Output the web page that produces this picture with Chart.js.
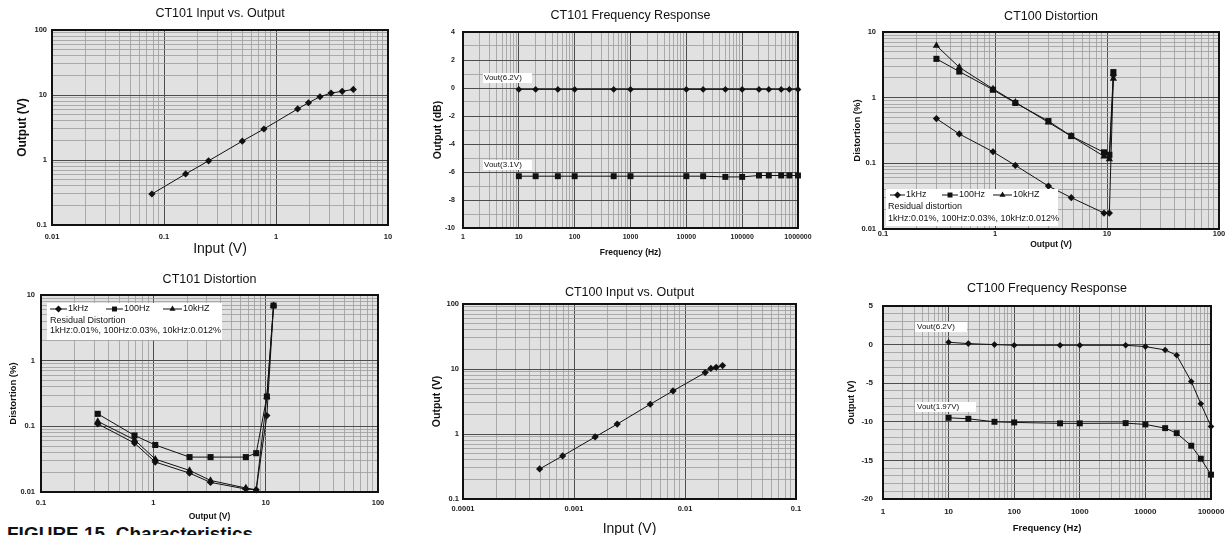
<!DOCTYPE html>
<html>
<head>
<meta charset="utf-8">
<script src="https://cdn.jsdelivr.net/npm/chart.js@4.4.1/dist/chart.umd.min.js"></script>
<style>
  html, body { margin: 0; padding: 0; background: #fff; }
  body { width: 1226px; height: 535px; overflow: hidden; position: relative; font-family: "Liberation Sans", Arial, sans-serif; }
  canvas { position: absolute; }
  #caption { position: absolute; left: 7px; top: 524px; font-size: 19px; line-height: 19px; font-weight: bold; white-space: nowrap; color: #111; }
</style>
</head>
<body>
<div id="caption">FIGURE 15. Characteristics</div>
<script>
// ---- CT101 Input vs. Output ----
const ct101IoInput  = [0.078, 0.156, 0.25, 0.5, 0.78, 1.56, 1.95, 2.47, 3.1, 3.9, 4.9];
const ct101IoOutput = [0.30, 0.61, 0.97, 1.95, 3.0, 6.1, 7.6, 9.4, 10.7, 11.4, 12.2];
const ct101IoXTicks = [0.01, 0.1, 1, 10];
const ct101IoYTicks = [0.1, 1, 10, 100];

// ---- CT101 Frequency Response ----
const ct101FrFreq = [10, 20, 50, 100, 500, 1000, 10000, 20000, 50000, 100000, 200000, 300000, 500000, 700000, 1000000];
const ct101FrHigh = [-0.1, -0.1, -0.1, -0.1, -0.1, -0.1, -0.1, -0.1, -0.1, -0.1, -0.1, -0.1, -0.1, -0.1, -0.1];
const ct101FrLow  = [-6.3, -6.3, -6.3, -6.3, -6.3, -6.3, -6.3, -6.3, -6.35, -6.35, -6.25, -6.25, -6.25, -6.25, -6.25];
const ct101FrSeries = ['Vout(6.2V)', 'Vout(3.1V)'];
const ct101FrXTicks = [1, 10, 100, 1000, 10000, 100000, 1000000];
const ct101FrYTicks = [-10, -8, -6, -4, -2, 0, 2, 4];

// ---- CT100 Distortion ----
const ct100DistOut   = [0.3, 0.48, 0.96, 1.52, 3.0, 4.8, 9.4, 10.5, 11.4];
const ct100Dist1k    = [0.48, 0.28, 0.15, 0.093, 0.045, 0.030, 0.0175, 0.0175, 2.2];
const ct100Dist100   = [3.9, 2.5, 1.32, 0.83, 0.44, 0.26, 0.147, 0.135, 2.45];
const ct100Dist10k   = [6.2, 2.9, 1.36, 0.85, 0.42, 0.258, 0.128, 0.116, 1.95];
const ct100Residual  = ['Residual distortion', '1kHz:0.01%, 100Hz:0.03%, 10kHz:0.012%'];

// ---- CT101 Distortion ----
const ct101DistOut   = [0.32, 0.68, 1.04, 2.1, 3.23, 6.66, 8.24, 10.25, 11.75];
const ct101Dist1k    = [0.109, 0.0555, 0.0286, 0.0194, 0.014, 0.0111, 0.0108, 0.146, 6.9];
const ct101Dist100   = [0.155, 0.0726, 0.052, 0.034, 0.034, 0.034, 0.039, 0.284, 6.9];
const ct101Dist10k   = [0.119, 0.0624, 0.0317, 0.0213, 0.015, 0.0115, 0.0108, 0.28, 6.9];
const ct101Residual  = ['Residual Distortion', '1kHz:0.01%, 100Hz:0.03%, 10kHz:0.012%'];

const distSeries = ['1kHz', '100Hz', '10kHZ'];
const distXTicks = [0.1, 1, 10, 100];
const distYTicks = [0.01, 0.1, 1, 10];

// ---- CT100 Input vs. Output ----
const ct100IoInput  = [0.00049, 0.00079, 0.00155, 0.00245, 0.00486, 0.0078, 0.0152, 0.0171, 0.0191, 0.0218];
const ct100IoOutput = [0.29, 0.46, 0.9, 1.42, 2.87, 4.6, 8.8, 10.2, 10.6, 11.3];
const ct100IoXTicks = [0.0001, 0.001, 0.01, 0.1];
const ct100IoYTicks = [0.1, 1, 10, 100];

// ---- CT100 Frequency Response ----
const ct100FrFreq = [10, 20, 50, 100, 500, 1000, 5000, 10000, 20000, 30000, 50000, 70000, 100000];
const ct100FrHigh = [0.3, 0.13, 0.0, -0.09, -0.09, -0.09, -0.09, -0.26, -0.69, -1.38, -4.78, -7.67, -10.6];
const ct100FrLow  = [-9.48, -9.61, -10.0, -10.08, -10.2, -10.2, -10.17, -10.34, -10.82, -11.47, -13.1, -14.78, -16.85];
const ct100FrSeries = ['Vout(6.2V)', 'Vout(1.97V)'];
const ct100FrXTicks = [1, 10, 100, 1000, 10000, 100000];
const ct100FrYTicks = [-20, -15, -10, -5, 0, 5];

const FONT = '"Liberation Sans", Arial, sans-serif';

// grid values: 1..9 in every decade for log axes, fixed step for linear ones
function logGrid(labels) {
    let vals = [];
    for (let i = 0; i < labels.length - 1; i++) {
        for (let m = 1; m < 10; m++) vals.push(+(labels[i] * m).toPrecision(4));
    }
    vals.push(labels[labels.length - 1]);
    return vals;
}
function linGrid(labels, step) {
    let vals = [];
    for (let v = labels[0]; v <= labels[labels.length - 1] + 1e-9; v += step) vals.push(+v.toFixed(3));
    return vals;
}
function points(xs, ys) {
    return xs.map((x, i) => ({ x: x, y: ys[i] }));
}

function drawMark(ctx, style, x, y, r) {
    ctx.beginPath();
    if (style === 'rectRot') {
        ctx.moveTo(x, y - r); ctx.lineTo(x + r, y); ctx.lineTo(x, y + r); ctx.lineTo(x - r, y);
    } else if (style === 'rect') {
        let s = r * Math.SQRT1_2;
        ctx.rect(x - s, y - s, 2 * s, 2 * s);
    } else {
        ctx.moveTo(x, y - r); ctx.lineTo(x + r * 0.87, y + r * 0.5); ctx.lineTo(x - r * 0.87, y + r * 0.5);
    }
    ctx.closePath();
    ctx.fill();
}

// grey plot paper + heavy frame
const plotFrame = {
    id: 'plotFrame',
    beforeDraw(chart) {
        const { ctx, chartArea: a } = chart;
        ctx.save();
        ctx.fillStyle = '#e1e1e1';
        ctx.fillRect(a.left, a.top, a.width, a.height);
        ctx.restore();
    },
    beforeDatasetsDraw(chart) {
        const { ctx, chartArea: a } = chart;
        ctx.save();
        ctx.strokeStyle = '#111';
        ctx.lineWidth = 2;
        ctx.strokeRect(a.left, a.top, a.width, a.height);
        ctx.restore();
    }
};

// white text boxes inside the plot (series labels, legend)
const notes = {
    id: 'notes',
    afterDatasetsDraw(chart, args, opts) {
        const { ctx, chartArea: a } = chart;
        (opts.boxes || []).forEach(b => {
            let x = a.left + b.x, y = a.top + b.y;
            ctx.save();
            ctx.fillStyle = '#fff';
            ctx.fillRect(x, y, b.w, b.h);
            ctx.fillStyle = '#111';
            ctx.strokeStyle = '#111';
            ctx.font = b.size + 'px ' + FONT;
            ctx.textBaseline = 'middle';
            (b.items || []).forEach(it => {
                ctx.lineWidth = 1;
                ctx.beginPath();
                ctx.moveTo(x + it.x, y + b.itemY);
                ctx.lineTo(x + it.x + it.len, y + b.itemY);
                ctx.stroke();
                drawMark(ctx, it.style, x + it.x + it.len / 2, y + b.itemY, 3.5);
                ctx.fillText(it.label, x + it.x + it.len + 1, y + b.itemY);
            });
            (b.lines || []).forEach(l => ctx.fillText(l.text, x + l.x, y + l.y));
            ctx.restore();
        });
    }
};

function series(label, xs, ys, style, size) {
    return {
        label: label,
        data: points(xs, ys),
        showLine: true,
        borderColor: '#111',
        backgroundColor: '#111',
        borderWidth: 1,
        pointStyle: style,
        pointRadius: size || (style === 'rect' ? 4.3 : (style === 'triangle' ? 4.2 : 3.6)),
        pointBorderWidth: 0,
        clip: false,
        tension: 0
    };
}

function makeChart(c) {
    const [cl, ct, cw, ch] = c.box;
    const [pl, pt, pr, pb] = c.plot;
    let cv = document.createElement('canvas');
    cv.width = cw;
    cv.height = ch;
    cv.style.left = cl + 'px';
    cv.style.top = ct + 'px';
    document.body.appendChild(cv);

    let tlh = c.title.size * 1.2;
    let tTop = c.title.y - ct - tlh / 2;
    let ylh = c.yTitle.size * 1.2;
    let xlh = c.xTitle.size * 1.2;
    let tickFont = { family: FONT, size: c.tick.size, weight: 'bold' };

    function axisGrid(labels) {
        return {
            drawTicks: false,
            color: ctx => (ctx.tick && labels.includes(ctx.tick.value)) ? '#4d4d4d' : '#9c9c9c',
            lineWidth: ctx => (ctx.tick && labels.includes(ctx.tick.value)) ? 1 : 0.8
        };
    }

    new Chart(cv, {
        type: 'scatter',
        data: { datasets: c.datasets },
        options: {
            responsive: false,
            animation: false,
            layout: { padding: { left: 0, top: 0, bottom: 0, right: cl + cw - pr } },
            plugins: {
                legend: { display: false },
                tooltip: { enabled: false },
                title: {
                    display: true,
                    text: c.title.text,
                    fullSize: false,
                    color: '#111',
                    font: { family: FONT, size: c.title.size, weight: 'normal' },
                    padding: { top: tTop, bottom: pt - ct - tTop - tlh }
                },
                notes: { boxes: c.notes || [] }
            },
            scales: {
                x: {
                    type: c.xType,
                    min: c.xLabels[0],
                    max: c.xLabels[c.xLabels.length - 1],
                    afterBuildTicks: s => { s.ticks = c.xGrid.map(v => ({ value: v })); },
                    afterFit: s => { s.height = ct + ch - pb; },
                    grid: axisGrid(c.xLabels),
                    border: { display: false },
                    ticks: {
                        autoSkip: false, maxRotation: 0, minRotation: 0,
                        padding: c.tick.xPad, font: tickFont, color: '#222',
                        callback: v => c.xLabels.includes(v) ? String(v) : ''
                    },
                    title: {
                        display: true, text: c.xTitle.text, color: '#111',
                        font: { family: FONT, size: c.xTitle.size, weight: c.xTitle.weight },
                        padding: { top: 0, bottom: ct + ch - c.xTitle.y - xlh / 2 }
                    }
                },
                y: {
                    type: c.yType,
                    min: c.yLabels[0],
                    max: c.yLabels[c.yLabels.length - 1],
                    afterBuildTicks: s => { s.ticks = c.yGrid.map(v => ({ value: v })); },
                    afterFit: s => { s.width = pl - cl; },
                    grid: axisGrid(c.yLabels),
                    border: { display: false },
                    ticks: {
                        autoSkip: false,
                        padding: c.tick.yPad, font: tickFont, color: '#222',
                        callback: v => c.yLabels.includes(v) ? String(v) : ''
                    },
                    title: {
                        display: true, text: c.yTitle.text, color: '#111',
                        font: { family: FONT, size: c.yTitle.size, weight: 'bold' },
                        padding: { top: c.yTitle.x - cl - ylh / 2, bottom: 0 }
                    }
                }
            }
        },
        plugins: [plotFrame, notes]
    });
}

// CT101 Input vs. Output
makeChart({
    box: [0, 0, 440, 260], plot: [52, 30, 388, 225],
    title: { text: 'CT101 Input vs. Output', y: 14, size: 12.5 },
    yTitle: { text: 'Output (V)', x: 23, size: 12 },
    xTitle: { text: 'Input (V)', y: 249, size: 14, weight: 'normal' },
    tick: { size: 7.5, xPad: 7, yPad: 5 },
    xType: 'logarithmic', xLabels: ct101IoXTicks, xGrid: logGrid(ct101IoXTicks),
    yType: 'logarithmic', yLabels: ct101IoYTicks, yGrid: logGrid(ct101IoYTicks),
    datasets: [series('Output', ct101IoInput, ct101IoOutput, 'rectRot')]
});

// CT101 Frequency Response
makeChart({
    box: [410, 0, 440, 260], plot: [463, 32, 798, 228],
    title: { text: 'CT101 Frequency Response', y: 16, size: 12.5 },
    yTitle: { text: 'Output (dB)', x: 438, size: 10.5 },
    xTitle: { text: 'Frequency (Hz)', y: 253, size: 8.5, weight: 'bold' },
    tick: { size: 7, xPad: 5, yPad: 8 },
    xType: 'logarithmic', xLabels: ct101FrXTicks, xGrid: logGrid(ct101FrXTicks),
    yType: 'linear', yLabels: ct101FrYTicks, yGrid: linGrid(ct101FrYTicks, 1),
    datasets: [
        series(ct101FrSeries[0], ct101FrFreq, ct101FrHigh, 'rectRot', 3.3),
        series(ct101FrSeries[1], ct101FrFreq, ct101FrLow, 'rect', 4.2)
    ],
    notes: [
        { x: 20, y: 41, w: 49, h: 10, size: 8, lines: [{ text: ct101FrSeries[0], x: 1, y: 5 }] },
        { x: 20, y: 128, w: 49, h: 10, size: 8, lines: [{ text: ct101FrSeries[1], x: 1, y: 5 }] }
    ]
});

// CT100 Distortion
makeChart({
    box: [820, 0, 440, 260], plot: [883, 32, 1219, 229],
    title: { text: 'CT100 Distortion', y: 17, size: 12.5 },
    yTitle: { text: 'Distortion (%)', x: 857, size: 9.5 },
    xTitle: { text: 'Output (V)', y: 245, size: 8.5, weight: 'bold' },
    tick: { size: 7.5, xPad: 0.5, yPad: 7 },
    xType: 'logarithmic', xLabels: distXTicks, xGrid: logGrid(distXTicks),
    yType: 'logarithmic', yLabels: distYTicks, yGrid: logGrid(distYTicks),
    datasets: [
        series(distSeries[0], ct100DistOut, ct100Dist1k, 'rectRot'),
        series(distSeries[1], ct100DistOut, ct100Dist100, 'rect'),
        series(distSeries[2], ct100DistOut, ct100Dist10k, 'triangle')
    ],
    notes: [{
        x: 3, y: 157, w: 172, h: 37, size: 9, itemY: 6,
        items: [
            { x: 4, len: 15, style: 'rectRot', label: distSeries[0] },
            { x: 56, len: 16, style: 'rect', label: distSeries[1] },
            { x: 107, len: 19, style: 'triangle', label: distSeries[2] }
        ],
        lines: [{ text: ct100Residual[0], x: 2, y: 18 }, { text: ct100Residual[1], x: 2, y: 30 }]
    }]
});

// CT101 Distortion
makeChart({
    box: [0, 260, 440, 290], plot: [41, 295, 378, 492],
    title: { text: 'CT101 Distortion', y: 280, size: 12.5 },
    yTitle: { text: 'Distortion (%)', x: 13, size: 9.5 },
    xTitle: { text: 'Output (V)', y: 517, size: 8.5, weight: 'bold' },
    tick: { size: 7.5, xPad: 6.5, yPad: 6 },
    xType: 'logarithmic', xLabels: distXTicks, xGrid: logGrid(distXTicks),
    yType: 'logarithmic', yLabels: distYTicks, yGrid: logGrid(distYTicks),
    datasets: [
        series(distSeries[0], ct101DistOut, ct101Dist1k, 'rectRot'),
        series(distSeries[1], ct101DistOut, ct101Dist100, 'rect'),
        series(distSeries[2], ct101DistOut, ct101Dist10k, 'triangle')
    ],
    notes: [{
        x: 6, y: 8, w: 175, h: 37, size: 9, itemY: 6,
        items: [
            { x: 3, len: 17, style: 'rectRot', label: distSeries[0] },
            { x: 59, len: 17, style: 'rect', label: distSeries[1] },
            { x: 116, len: 19, style: 'triangle', label: distSeries[2] }
        ],
        lines: [{ text: ct101Residual[0], x: 3, y: 18 }, { text: ct101Residual[1], x: 3, y: 28 }]
    }]
});

// CT100 Input vs. Output
makeChart({
    box: [410, 260, 440, 290], plot: [463, 304, 796, 499],
    title: { text: 'CT100 Input vs. Output', y: 293, size: 12.5 },
    yTitle: { text: 'Output (V)', x: 437, size: 10.5 },
    xTitle: { text: 'Input (V)', y: 529, size: 14, weight: 'normal' },
    tick: { size: 7.5, xPad: 5.5, yPad: 4 },
    xType: 'logarithmic', xLabels: ct100IoXTicks, xGrid: logGrid(ct100IoXTicks),
    yType: 'logarithmic', yLabels: ct100IoYTicks, yGrid: logGrid(ct100IoYTicks),
    datasets: [series('Output', ct100IoInput, ct100IoOutput, 'rectRot')]
});

// CT100 Frequency Response
makeChart({
    box: [820, 260, 440, 290], plot: [883, 306, 1211, 499],
    title: { text: 'CT100 Frequency Response', y: 289, size: 12.5 },
    yTitle: { text: 'Output (V)', x: 852, size: 9 },
    xTitle: { text: 'Frequency (Hz)', y: 528, size: 9.5, weight: 'bold' },
    tick: { size: 8, xPad: 8, yPad: 10 },
    xType: 'logarithmic', xLabels: ct100FrXTicks, xGrid: logGrid(ct100FrXTicks),
    yType: 'linear', yLabels: ct100FrYTicks, yGrid: linGrid(ct100FrYTicks, 1),
    datasets: [
        series(ct100FrSeries[0], ct100FrFreq, ct100FrHigh, 'rectRot', 3.3),
        series(ct100FrSeries[1], ct100FrFreq, ct100FrLow, 'rect', 4.2)
    ],
    notes: [
        { x: 32, y: 16, w: 52, h: 10, size: 8, lines: [{ text: ct100FrSeries[0], x: 2, y: 5 }] },
        { x: 32, y: 96, w: 61, h: 10, size: 8, lines: [{ text: ct100FrSeries[1], x: 2, y: 5 }] }
    ]
});
</script>
</body>
</html>
